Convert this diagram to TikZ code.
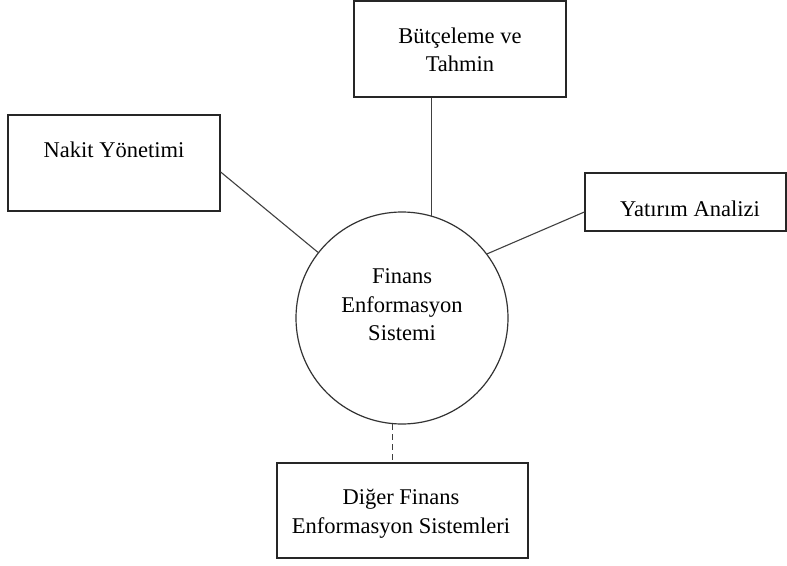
\documentclass[tikz,border=0pt]{standalone}
\usepackage{fontspec}
\setmainfont{Liberation Serif}
\begin{document}
\begin{tikzpicture}[x=1pt,y=-1pt,
  box/.style={draw=black!85, line width=1.3pt, fill=white, inner sep=0pt},
  hub/.style={circle, draw=black!80, line width=1.2pt, fill=white, inner sep=0pt, minimum size=212pt},
  lbl/.style={align=center, inner sep=0pt, font=\fontsize{22.5}{28.5}\selectfont},
  link/.style={draw=black!75, line width=1.1pt}]
  % canvas
  \fill[white] (0,0) rectangle (787,565);
  \useasboundingbox (0,0) rectangle (787,565);

  % central system
  \node[hub] (fin) at (402,318) {};
  \node[lbl] (fintext) at (402,305) {Finans\\Enformasyon\\Sistemi};

  % subsystem boxes
  \node[box, minimum width=212pt, minimum height=96pt] (butce) at (460,49) {};
  \node[lbl] (butcetext) at (460,50) {Bütçeleme ve\\Tahmin};

  \node[box, minimum width=212pt, minimum height=96pt] (nakit) at (114,163) {};
  \node[lbl] (nakittext) at (114,150) {Nakit Yönetimi};

  \node[box, minimum width=201pt, minimum height=58pt] (yatirim) at (685.5,202) {};
  \node[lbl] (yatirimtext) at (690,209) {Yatırım Analizi};

  \node[box, minimum width=251pt, minimum height=95pt] (diger) at (402.5,510.5) {};
  \node[lbl] (digertext) at (401,513.5) {Diğer Finans\\Enformasyon Sistemleri};

  % connectors
  \draw[link] (butce.south -| fin.74) -- (fin.74);
  \draw[link] ([yshift=-9pt]nakit.east) -- (fin.142);
  \draw[link] (fin.37) -- ([yshift=-10pt]yatirim.west);
  \draw[link, dash pattern=on 6pt off 4pt] (fin.265) -- (fin.265 |- diger.north);
\end{tikzpicture}
\end{document}
